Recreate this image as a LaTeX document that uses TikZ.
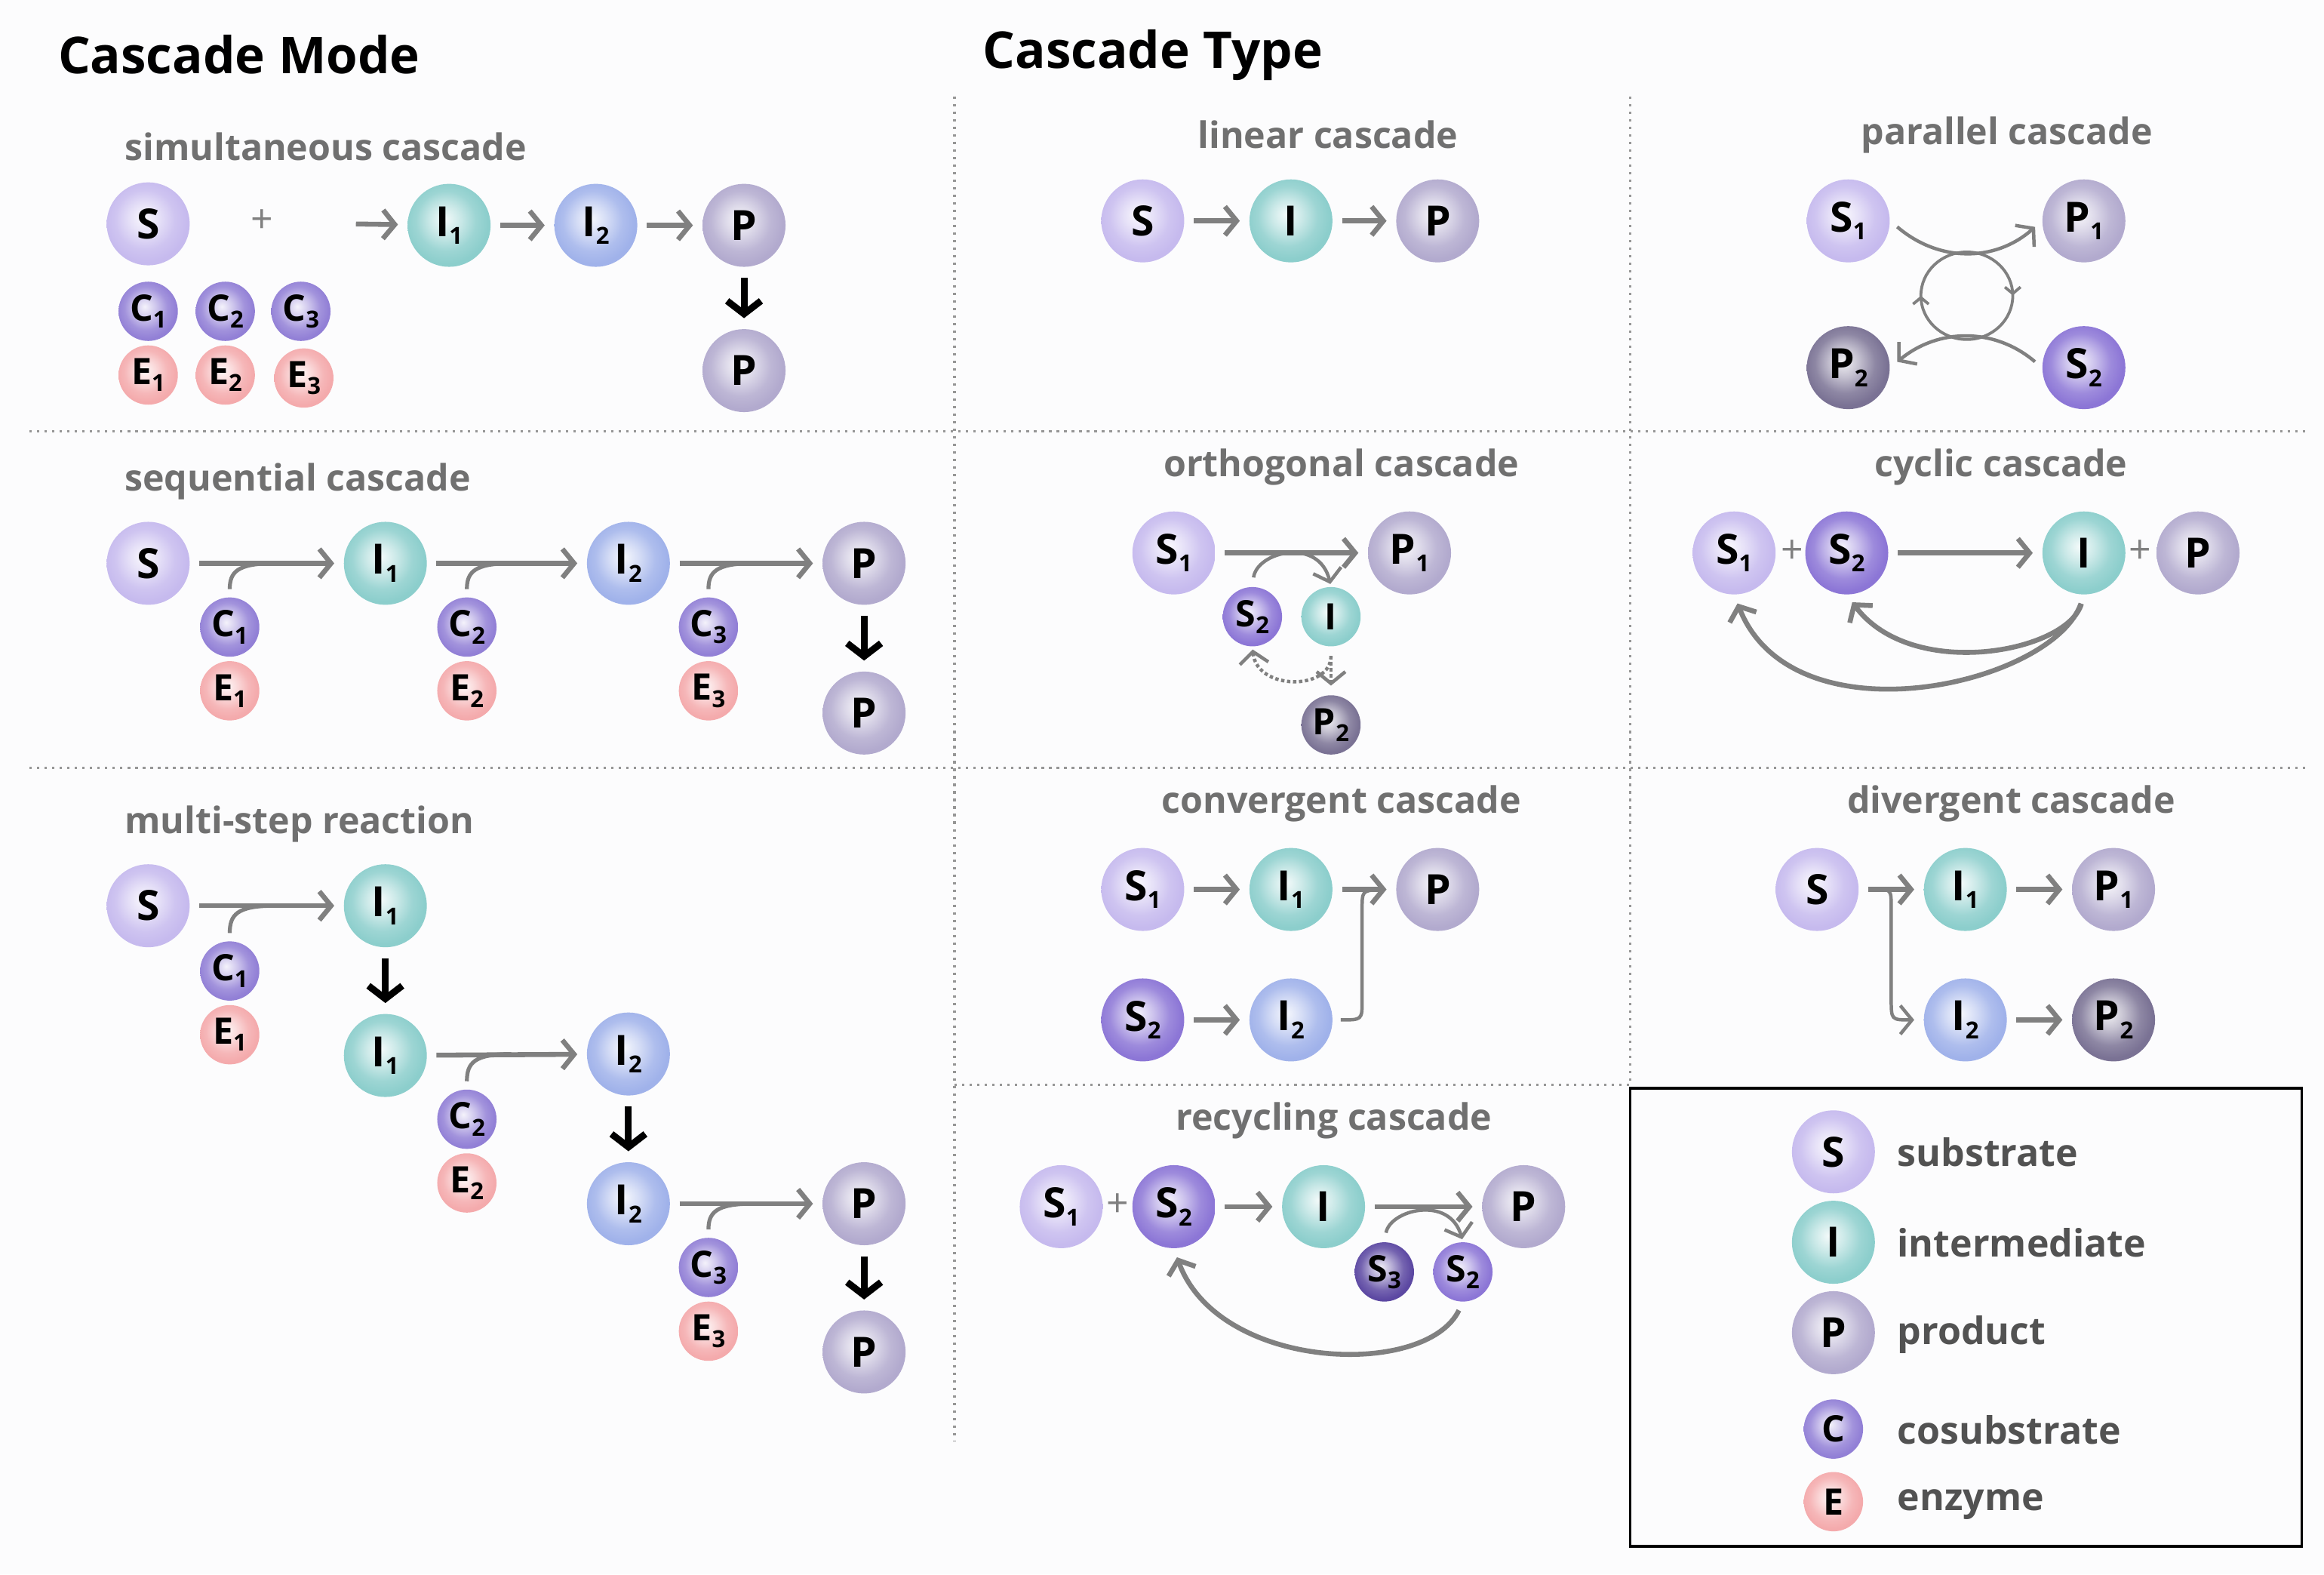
\documentclass[tikz,border=0pt]{standalone}
\usepackage{fontspec}
\setmainfont{Open Sans}
\usetikzlibrary{arrows.meta, decorations.markings}

\definecolor{subcol}{RGB}{198,186,238}
\definecolor{sub2col}{RGB}{140,118,214}
\definecolor{sub3col}{RGB}{92,72,162}
\definecolor{intcol}{RGB}{140,206,204}
\definecolor{int2col}{RGB}{160,178,234}
\definecolor{prodcol}{RGB}{178,170,206}
\definecolor{prod2col}{RGB}{122,114,148}
\definecolor{cocol}{RGB}{146,128,214}
\definecolor{enzcol}{RGB}{244,170,172}
\definecolor{arrcol}{RGB}{128,128,128}
\definecolor{lblcol}{RGB}{112,112,112}
\definecolor{keycol}{RGB}{82,82,82}
\definecolor{sepcol}{RGB}{150,150,150}
\definecolor{bgcol}{RGB}{252,252,253}
\colorlet{molcol}{white}

\pgfdeclareradialshading[molcol]{molball}{\pgfpoint{-3bp}{4bp}}{%
  color(0bp)=(molcol!10!white);
  color(9bp)=(molcol!45!white);
  color(18bp)=(molcol!85!white);
  color(25bp)=(molcol);
  color(50bp)=(molcol)}

\newcommand{\molfont}{\fontsize{16}{16}\selectfont\bfseries}
\newcommand{\smfont}{\fontsize{14}{14}\selectfont\bfseries}
\newcommand{\lblfont}{\fontsize{14}{14}\selectfont\bfseries}
\newcommand{\keyfont}{\fontsize{14.5}{14.5}\selectfont\bfseries}
\newcommand{\plsfont}{\fontsize{15}{15}\selectfont}
\newcommand{\sub}[1]{\raisebox{-0.35ex}{\fontsize{9}{9}\selectfont #1}}

\begin{document}
\begin{tikzpicture}[x=0.02cm, y=-0.02cm,
  mol/.style={circle, inner sep=0pt, minimum size=1.12cm, font=\molfont,
    /utils/exec={\colorlet{molcol}{#1}}, shade, shading=molball},
  sm/.style={mol=#1, minimum size=0.8cm, font=\smfont},
  rx/.style={draw=arrcol, line width=1.9pt, shorten <=3.5pt, shorten >=3.5pt,
    -{Straight Barb[length=4.5pt,width=11pt]}},
  rxthin/.style={rx, line width=1.3pt},
  rxdot/.style={rx, line width=1.3pt, densely dotted},
  branch/.style={draw=arrcol, line width=1.5pt, shorten <=3pt},
  go/.style={draw=black, line width=2.6pt, shorten <=4pt, shorten >=4pt,
    -{Straight Barb[length=5pt,width=13pt]}},
  lbl/.style={text=lblcol, font=\lblfont},
  pls/.style={text=arrcol, font=\plsfont},
  key/.style={text=keycol, font=\keyfont, anchor=base west},
  sep/.style={draw=sepcol, dotted, line width=0.9pt}]

\useasboundingbox (0,0) rectangle (1568,1062);
\fill[bgcol] (0,0) rectangle (1568,1062);

% frames
\draw[sep] (20,291) -- (1555,291);
\draw[sep] (20,518) -- (1555,518);
\draw[sep] (644,65) -- (644,972);
\draw[sep] (1100,65) -- (1100,732);
\draw[sep] (644,732) -- (1100,732);
\draw[line width=1pt] (1100,734) rectangle (1553,1043);

\node[anchor=west, font=\fontsize{19.5}{19.5}\selectfont\bfseries] (modeT) at (33,37) {Cascade Mode};
\node[anchor=west, font=\fontsize{19.5}{19.5}\selectfont\bfseries] (typeT) at (657,37) {Cascade Type};

% simultaneous cascade
\node[lbl, anchor=west] (simL) at (78,99) {simultaneous cascade};
\node[mol=subcol] (sS) at (100,151) {S};
\node[pls] (sPl) at (177,149) {+};
\coordinate (sIn) at (234,151);
\node[mol=intcol] (sI1) at (303,152) {I\sub1};
\node[mol=int2col] (sI2) at (402,152) {I\sub2};
\node[mol=prodcol] (sP) at (502,152) {P};
\node[mol=prodcol] (sPf) at (502,250) {P};
\node[sm=cocol] (sC1) at (100,210) {C\sub1};
\node[sm=cocol] (sC2) at (152,210) {C\sub2};
\node[sm=cocol] (sC3) at (203,210) {C\sub3};
\node[sm=enzcol] (sE1) at (100,253) {E\sub1};
\node[sm=enzcol] (sE2) at (152,253) {E\sub2};
\node[sm=enzcol] (sE3) at (205,255) {E\sub3};
\draw[rx] (sIn) -- (sI1);
\draw[rx] (sI1) -- (sI2);
\draw[rx] (sI2) -- (sP);
\draw[go] (sP) -- (sPf);

% sequential cascade
\node[lbl, anchor=west] (seqL) at (78,325) {sequential cascade};
\node[mol=subcol] (qS) at (100,380) {S};
\node[mol=intcol] (qI1) at (260,380) {I\sub1};
\node[mol=int2col] (qI2) at (424,380) {I\sub2};
\node[mol=prodcol] (qP) at (583,380) {P};
\node[mol=prodcol] (qPf) at (583,481) {P};
\node[sm=cocol] (qC1) at (155,423) {C\sub1};
\node[sm=enzcol] (qE1) at (155,466) {E\sub1};
\node[sm=cocol] (qC2) at (315,423) {C\sub2};
\node[sm=enzcol] (qE2) at (315,466) {E\sub2};
\node[sm=cocol] (qC3) at (478,423) {C\sub3};
\node[sm=enzcol] (qE3) at (478,466) {E\sub3};
\coordinate (qJ1) at (185,380);
\coordinate (qJ2) at (345,380);
\coordinate (qJ3) at (508,380);
\draw[rx] (qS) -- (qI1);
\draw[rx] (qI1) -- (qI2);
\draw[rx] (qI2) -- (qP);
\draw[go] (qP) -- (qPf);
\draw[branch] (qC1.north) .. controls (155,386) and (160,380) .. (qJ1);
\draw[branch] (qC2.north) .. controls (315,386) and (320,380) .. (qJ2);
\draw[branch] (qC3.north) .. controls (478,386) and (483,380) .. (qJ3);

% multi-step reaction
\node[lbl, anchor=west] (mulL) at (78,556) {multi-step reaction};
\node[mol=subcol] (mS) at (100,611) {S};
\node[mol=intcol] (mI1) at (260,611) {I\sub1};
\node[sm=cocol] (mC1) at (155,655) {C\sub1};
\node[sm=enzcol] (mE1) at (155,698) {E\sub1};
\node[mol=intcol] (mI1b) at (260,712) {I\sub1};
\node[mol=int2col] (mI2) at (424,711) {I\sub2};
\node[sm=cocol] (mC2) at (315,755) {C\sub2};
\node[sm=enzcol] (mE2) at (315,798) {E\sub2};
\node[mol=int2col] (mI2b) at (424,812) {I\sub2};
\node[mol=prodcol] (mP) at (583,812) {P};
\node[sm=cocol] (mC3) at (478,855) {C\sub3};
\node[sm=enzcol] (mE3) at (478,898) {E\sub3};
\node[mol=prodcol] (mPf) at (583,912) {P};
\coordinate (mJ1) at (185,611);
\coordinate (mJ2) at (345,711);
\coordinate (mJ3) at (508,812);
\draw[rx] (mS) -- (mI1);
\draw[go] (mI1) -- (mI1b);
\draw[rx] (mI1b) -- (mI2);
\draw[go] (mI2) -- (mI2b);
\draw[rx] (mI2b) -- (mP);
\draw[go] (mP) -- (mPf);
\draw[branch] (mC1.north) .. controls (155,617) and (160,611) .. (mJ1);
\draw[branch] (mC2.north) .. controls (315,717) and (320,711) .. (mJ2);
\draw[branch] (mC3.north) .. controls (478,818) and (483,812) .. (mJ3);

% linear cascade
\node[lbl] (linL) at (896,91) {linear cascade};
\node[mol=subcol] (lS) at (771,149) {S};
\node[mol=intcol] (lI) at (871,149) {I};
\node[mol=prodcol] (lP) at (970,149) {P};
\draw[rx] (lS) -- (lI);
\draw[rx] (lI) -- (lP);

% parallel cascade
\node[lbl] (parL) at (1354,91) {parallel cascade};
\node[mol=subcol] (pS1) at (1247,149) {S\sub1};
\node[mol=prodcol] (pP1) at (1406,149) {P\sub1};
\node[mol=prod2col] (pP2) at (1247,248) {P\sub2};
\node[mol=sub2col] (pS2) at (1406,248) {S\sub2};
\draw[rxthin] (pS1.east) .. controls (1308,177) and (1346,177) .. (pP1.west);
\draw[rxthin] (pS2.west) .. controls (1346,221) and (1308,221) .. (pP2.east);
\draw[draw=arrcol, line width=1.1pt, postaction={decorate}, decoration={markings,
  mark=at position 0.5 with {\arrow{Straight Barb[length=2.5pt,width=6pt]}},
  mark=at position 0.999 with {\arrow{Straight Barb[length=2.5pt,width=6pt]}}}]
  (1327,199.5) ellipse [x radius=31, y radius=29.5];

% orthogonal cascade
\node[lbl] (ortL) at (905,315) {orthogonal cascade};
\node[mol=subcol] (oS1) at (792,373) {S\sub1};
\node[mol=prodcol] (oP1) at (951,373) {P\sub1};
\node[sm=sub2col] (oS2) at (845,416) {S\sub2};
\node[sm=intcol] (oI) at (898,416) {I};
\node[sm=prod2col] (oP2) at (898,489) {P\sub2};
\draw[rx] (oS1) -- (oP1);
\draw[rxthin, shorten >=1pt] (oS2.north) .. controls (848,372) and (890,362) .. (oI.north);
\draw[rxdot, shorten >=1pt] (oI.south) .. controls (898,466) and (848,466) .. (oS2.south);
\draw[rxdot] (oI.south) -- (oP2.north);

% cyclic cascade
\node[lbl] (cycL) at (1350,315) {cyclic cascade};
\node[mol=subcol] (cS1) at (1170,373) {S\sub1};
\node[pls] (cPl1) at (1209,372) {+};
\node[mol=sub2col] (cS2) at (1246,373) {S\sub2};
\node[mol=intcol] (cI) at (1406,373) {I};
\node[pls] (cPl2) at (1444,372) {+};
\node[mol=prodcol] (cP) at (1483,373) {P};
\draw[rx] (cS2) -- (cI);
\draw[rx] (cI.south) .. controls (1395,440) and (1290,460) .. (cS2.south);
\draw[rx] (cI.south) .. controls (1385,462) and (1210,502) .. (cS1.south);

% convergent cascade
\node[lbl] (conL) at (905,542) {convergent cascade};
\node[mol=subcol] (vS1) at (771,600) {S\sub1};
\node[mol=intcol] (vI1) at (871,600) {I\sub1};
\node[mol=prodcol] (vP) at (970,600) {P};
\node[mol=sub2col] (vS2) at (771,688) {S\sub2};
\node[mol=int2col] (vI2) at (871,688) {I\sub2};
\coordinate (vJ) at (930,600);
\draw[rx] (vS1) -- (vI1);
\draw[rx] (vI1) -- (vP);
\draw[rx] (vS2) -- (vI2);
\draw[branch, line width=1.3pt] (vI2.east) .. controls (919,688) .. (919,675) -- (919,614) .. controls (919,601) .. (vJ);

% divergent cascade
\node[lbl] (divL) at (1357,542) {divergent cascade};
\node[mol=subcol] (dS) at (1226,600) {S};
\node[mol=intcol] (dI1) at (1326,600) {I\sub1};
\node[mol=prodcol] (dP1) at (1426,600) {P\sub1};
\node[mol=int2col] (dI2) at (1326,688) {I\sub2};
\node[mol=prod2col] (dP2) at (1426,688) {P\sub2};
\coordinate (dJ) at (1266,600);
\draw[rx] (dS) -- (dI1);
\draw[rx] (dI1) -- (dP1);
\draw[rx] (dI2) -- (dP2);
\draw[rxthin, shorten <=0pt] (dJ) .. controls (1276,600) .. (1276,613) -- (1276,674) .. controls (1276,688) .. (dI2.west);

% recycling cascade
\node[lbl] (recL) at (900,756) {recycling cascade};
\node[mol=subcol] (rS1) at (716,814) {S\sub1};
\node[pls] (rPl) at (754,813) {+};
\node[mol=sub2col] (rS2) at (792,814) {S\sub2};
\node[mol=intcol] (rI) at (893,814) {I};
\node[mol=prodcol] (rP) at (1028,814) {P};
\node[sm=sub3col] (rS3) at (934,858) {S\sub3};
\node[sm=sub2col] (rS2b) at (987,858) {S\sub2};
\draw[rx] (rS2) -- (rI);
\draw[rx] (rI) -- (rP);
\draw[rxthin, shorten >=1pt] (rS3.north) .. controls (938,816) and (978,806) .. (rS2b.north);
\draw[rx] (rS2b.south) .. controls (962,930) and (822,925) .. (rS2.south);

% legend
\node[mol=subcol] (kS) at (1237,777) {S};
\node[key] (kSt) at (1274,787) {substrate};
\node[mol=intcol] (kI) at (1237,838) {I};
\node[key] (kIt) at (1274,848) {intermediate};
\node[mol=prodcol] (kP) at (1237,899) {P};
\node[key] (kPt) at (1274,907) {product};
\node[sm=cocol] (kC) at (1237,964) {C};
\node[key] (kCt) at (1274,974) {cosubstrate};
\node[sm=enzcol] (kE) at (1237,1013) {E};
\node[key] (kEt) at (1274,1019) {enzyme};

\end{tikzpicture}
\end{document}
